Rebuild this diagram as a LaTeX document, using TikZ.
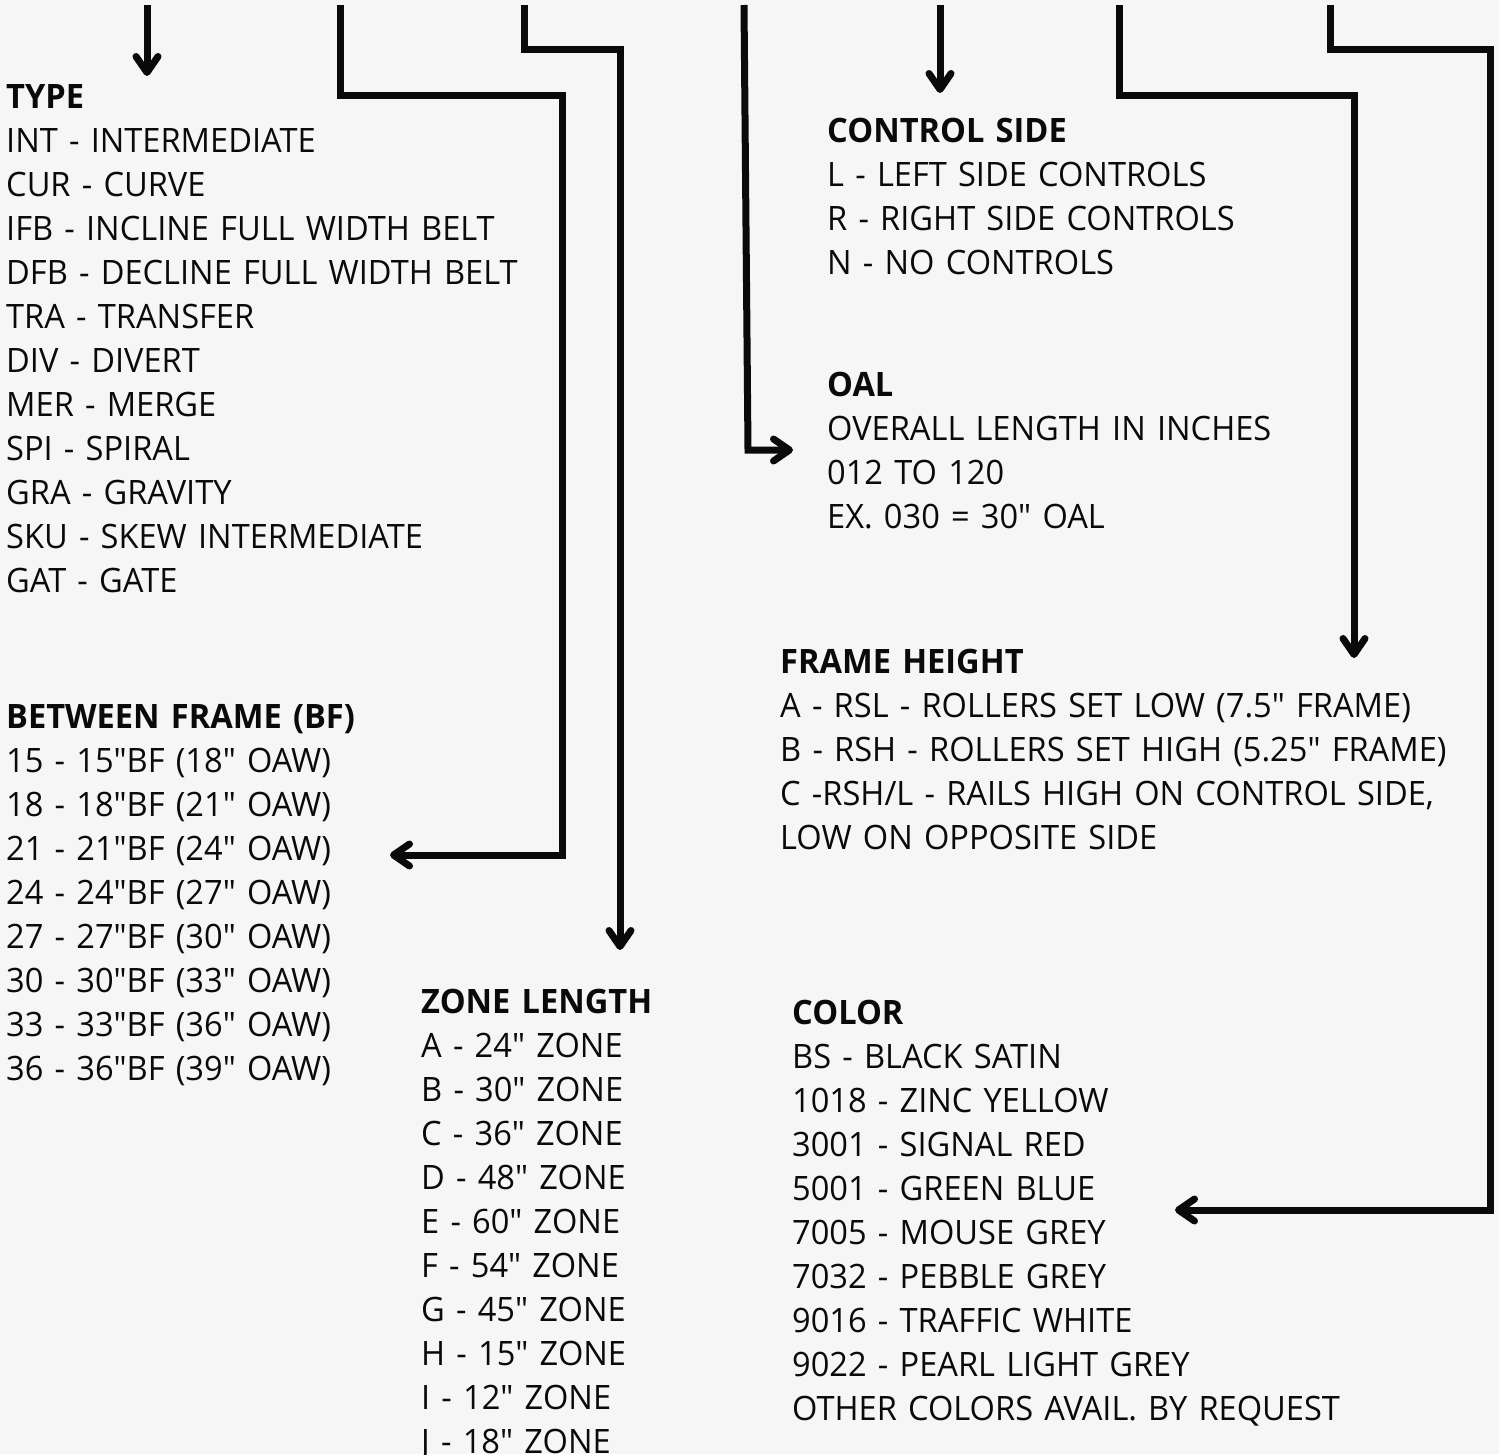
\documentclass[tikz,border=0pt]{standalone}
\usepackage{fontspec}
\setmainfont{Open Sans}[Ligatures=TeXOff, FakeStretch=0.97]
\usepackage{xcolor}
\usetikzlibrary{arrows.meta,positioning,calc}
\definecolor{paper}{HTML}{F6F6F6}
\definecolor{ink}{HTML}{0A0A0A}

\begin{document}
\begin{tikzpicture}[
	x=1pt, y=-1pt,
	every node/.style = {anchor=base west, inner sep=0pt,
	align=left, text width=700pt, text=ink,
	font=\fontsize{33.6}{44}\selectfont},
	lead/.style = {draw=ink, line width=7pt,
	-{Straight Barb[length=16pt, width=22pt, round]}}
]
\path[use as bounding box, fill=paper] (0,0) rectangle (1499,1454);

\node (type) at (6,108) {{\bfseries TYPE}\\
	INT - INTERMEDIATE\\
	CUR - CURVE\\
	IFB - INCLINE FULL WIDTH BELT\\
	DFB - DECLINE FULL WIDTH BELT\\
	TRA - TRANSFER\\
	DIV - DIVERT\\
	MER - MERGE\\
	SPI - SPIRAL\\
	GRA - GRAVITY\\
	SKU - SKEW INTERMEDIATE\\
	GAT - GATE};
\node (bf) at (6,728) {{\bfseries BETWEEN FRAME (BF)}\\
	15 - 15"BF (18" OAW)\\
	18 - 18"BF (21" OAW)\\
	21 - 21"BF (24" OAW)\\
	24 - 24"BF (27" OAW)\\
	27 - 27"BF (30" OAW)\\
	30 - 30"BF (33" OAW)\\
	33 - 33"BF (36" OAW)\\
	36 - 36"BF (39" OAW)};
\node (zone) at (421,1013) {{\bfseries ZONE LENGTH}\\
	A - 24" ZONE\\
	B - 30" ZONE\\
	C - 36" ZONE\\
	D - 48" ZONE\\
	E - 60" ZONE\\
	F - 54" ZONE\\
	G - 45" ZONE\\
	H - 15" ZONE\\
	I - 12" ZONE\\
	J - 18" ZONE};
\node (ctrl) at (827,142) {{\bfseries CONTROL SIDE}\\
	L - LEFT SIDE CONTROLS\\
	R - RIGHT SIDE CONTROLS\\
	N - NO CONTROLS};
\node (oal) at (827,396) {{\bfseries OAL}\\
	OVERALL LENGTH IN INCHES\\
	012 TO 120\\
	EX. 030 = 30" OAL};
\node (height) at (780,673) {{\bfseries FRAME HEIGHT}\\
	A - RSL - ROLLERS SET LOW (7.5" FRAME)\\
	B - RSH - ROLLERS SET HIGH (5.25" FRAME)\\
	C -RSH/L - RAILS HIGH ON CONTROL SIDE,\\
	LOW ON OPPOSITE SIDE};
\node (color) at (792,1024) {{\bfseries COLOR}\\
	BS - BLACK SATIN\\
	1018 - ZINC YELLOW\\
	3001 - SIGNAL RED\\
	5001 - GREEN BLUE\\
	7005 - MOUSE GREY\\
	7032 - PEBBLE GREY\\
	9016 - TRAFFIC WHITE\\
	9022 - PEARL LIGHT GREY\\
	OTHER COLORS AVAIL. BY REQUEST};

\coordinate (type top) at (147,5);
\coordinate (type tip) at (147,76);
\coordinate (bf top) at (340,5);
\coordinate (bf tip) at (390,855);
\coordinate (zone top) at (524,5);
\coordinate (zone tip) at (620,950);
\coordinate (oal top) at (744,5);
\coordinate (oal tip) at (793,450);
\coordinate (ctrl top) at (940,5);
\coordinate (ctrl tip) at (940,93);
\coordinate (height top) at (1119,5);
\coordinate (height tip) at (1354,658);
\coordinate (color top) at (1330,5);
\coordinate (color tip) at (1175,1210);

\draw[lead] (type top) -- (type tip);
\draw[lead] (bf top) |- (562,95) |- (bf tip);
\draw[lead] (zone top) |- (620,49) -- (zone tip);
\draw[lead] (oal top) -- (748,450) -- (oal tip);
\draw[lead] (ctrl top) -- (ctrl tip);
\draw[lead] (height top) |- (1354,95) -- (height tip);
\draw[lead] (color top) |- (1490,49) |- (color tip);
\end{tikzpicture}
\end{document}
